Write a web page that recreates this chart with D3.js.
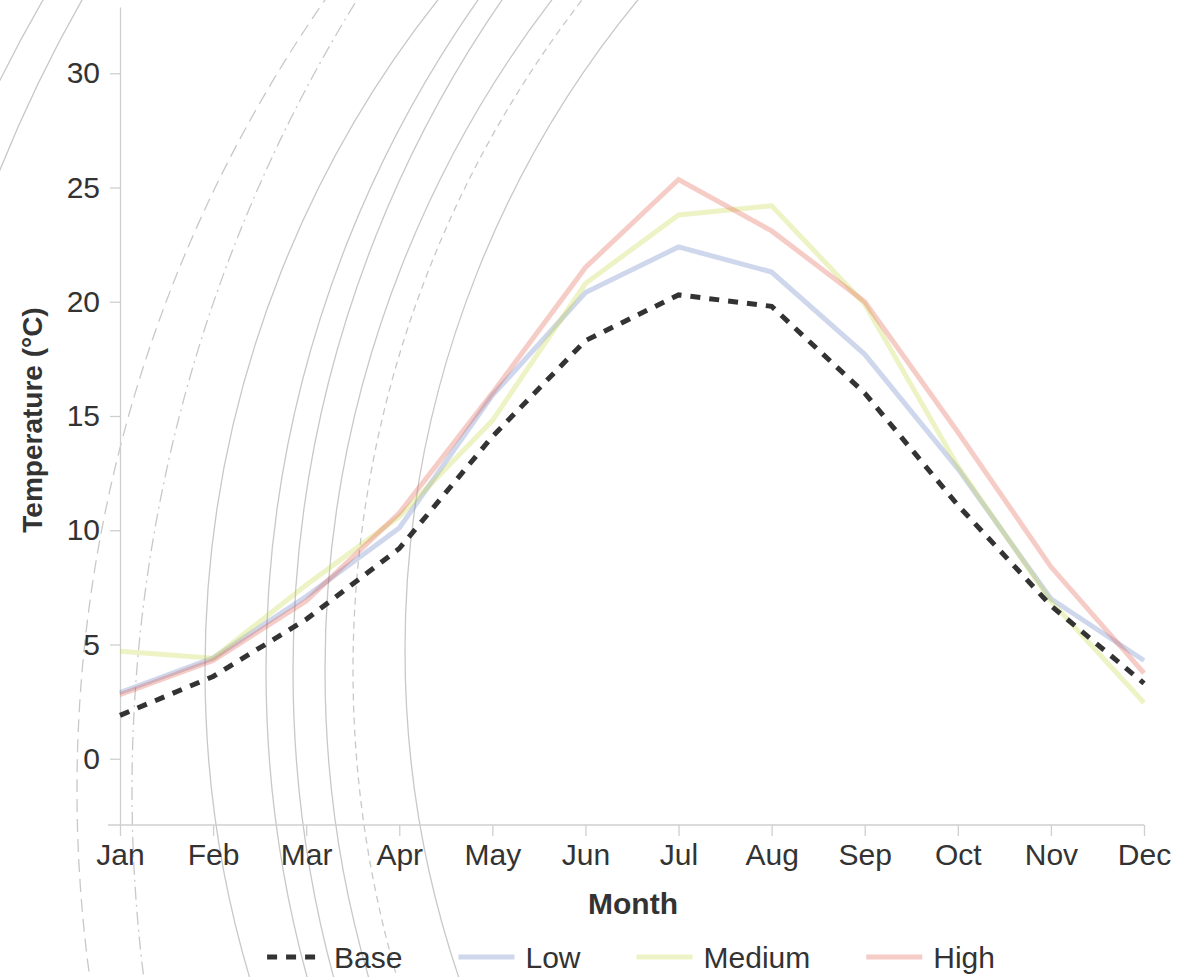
<!DOCTYPE html>
<html>
<head>
<meta charset="utf-8">
<script src="https://cdn.jsdelivr.net/npm/d3@7"></script>
<style>
  body { margin: 0; background: #fff; }
  svg { display: block; font-family: "Liberation Sans", Arial, sans-serif; }
</style>
</head>
<body>
<div id="chart"></div>
<script>
const months = ['Jan', 'Feb', 'Mar', 'Apr', 'May', 'Jun', 'Jul', 'Aug', 'Sep', 'Oct', 'Nov', 'Dec'];
const base   = [1.9, 3.6, 6.1, 9.2, 14.1, 18.3, 20.3, 19.8, 16.0, 11.1, 6.7, 3.3];
const low    = [2.9, 4.4, 7.1, 10.1, 15.9, 20.4, 22.4, 21.3, 17.7, 12.7, 7.0, 4.3];
const medium = [4.7, 4.4, 7.6, 10.6, 14.8, 20.8, 23.8, 24.2, 19.9, 12.8, 6.9, 2.45];
const high   = [2.8, 4.3, 6.9, 10.75, 16.0, 21.5, 25.35, 23.1, 20.0, 14.3, 8.4, 3.75];
const yTicks = [0, 5, 10, 15, 20, 25, 30];
const seriesNames = ['Base', 'Low', 'Medium', 'High'];

const W = 1179, H = 977;
const svg = d3.select('#chart').append('svg').attr('width', W).attr('height', H);

// decorative rings in the background (left = leftmost x, mid = y of that point, top = x where it crosses y=0)
const rings = [
  { left: -145, mid: 700, top: 43, dash: null },
  { left: -103, mid: 700, top: 82, dash: null },
  { left: 77, mid: 790, top: 325, dash: '13,7' },
  { left: 132, mid: 790, top: 357, dash: '13,5,2,5' },
  { left: 205, mid: 670, top: 438, dash: null },
  { left: 266, mid: 670, top: 478, dash: null },
  { left: 293, mid: 670, top: 502, dash: null },
  { left: 325, mid: 670, top: 552, dash: null },
  { left: 353, mid: 670, top: 582, dash: '7,5' },
  { left: 405, mid: 650, top: 638, dash: null }
];
const ringG = svg.append('g');
rings.forEach(r => {
  const d = r.top - r.left;
  const rad = (d * d + r.mid * r.mid) / (2 * d);
  ringG.append('circle')
    .attr('cx', r.left + rad).attr('cy', r.mid).attr('r', rad)
    .attr('fill', 'none').attr('stroke', '#c8c8c8').attr('stroke-width', 1.3)
    .attr('stroke-dasharray', r.dash);
});

const x = d3.scalePoint().domain(months).range([120, 1144]);
const y = d3.scaleLinear().domain([-2.9, 32.9]).range([825, 7]);

// axes
const gx = svg.append('g').attr('transform', 'translate(0,825)')
  .call(d3.axisBottom(x).tickSize(11).tickSizeOuter(0).tickPadding(8));
gx.select('.domain').attr('d', `M108,0H1144`);
const gy = svg.append('g').attr('transform', 'translate(120,0)')
  .call(d3.axisLeft(y).tickValues(yTicks).tickSize(10).tickSizeOuter(0).tickPadding(10));
[gx, gy].forEach(g => {
  g.select('.domain').attr('stroke', '#cfcfcf').attr('stroke-width', 1.3);
  g.selectAll('.tick line').attr('stroke', '#cfcfcf').attr('stroke-width', 1.3);
  g.selectAll('.tick text').attr('fill', '#333').style('font-size', '30px')
    .style('font-family', '"Liberation Sans", Arial, sans-serif');
});

svg.append('text').attr('x', 633).attr('y', 914).attr('text-anchor', 'middle')
  .style('font-size', '30px').style('font-weight', 'bold').attr('fill', '#333').text('Month');
svg.append('text').attr('transform', 'translate(42,420) rotate(-90)').attr('text-anchor', 'middle')
  .style('font-size', '28px').style('font-weight', 'bold').attr('fill', '#333').text('Temperature (°C)');

// lines
const styles = {
  Base:   { color: '#333', opacity: 1, dash: '10,9' },
  Low:    { color: '#5f7ac0', opacity: 0.3, dash: null },
  Medium: { color: '#c8d640', opacity: 0.3, dash: null },
  High:   { color: '#e05545', opacity: 0.3, dash: null }
};
const values = { Base: base, Low: low, Medium: medium, High: high };
const line = d3.line().x((d, i) => x(months[i])).y(d => y(d));
['Low', 'Medium', 'High', 'Base'].forEach(name => {
  const s = styles[name];
  svg.append('path').datum(values[name])
    .attr('d', line).attr('fill', 'none')
    .attr('stroke', s.color).attr('stroke-opacity', s.opacity)
    .attr('stroke-width', 5).attr('stroke-dasharray', s.dash);
});

// legend
const legend = svg.append('g');
let lx = 0;
seriesNames.forEach(name => {
  const s = styles[name];
  const item = legend.append('g').attr('transform', `translate(${lx},0)`);
  item.append('line').attr('x1', 0).attr('x2', 56).attr('y1', 0).attr('y2', 0)
    .attr('stroke', s.color).attr('stroke-opacity', s.opacity)
    .attr('stroke-width', 5).attr('stroke-dasharray', s.dash);
  const t = item.append('text').attr('x', 67).attr('y', 11)
    .style('font-size', '30px').attr('fill', '#333').text(name);
  lx += 67 + t.node().getComputedTextLength() + 56;
});
const lw = lx - 56;
legend.attr('transform', `translate(${631 - lw / 2},957)`);
</script>
</body>
</html>
